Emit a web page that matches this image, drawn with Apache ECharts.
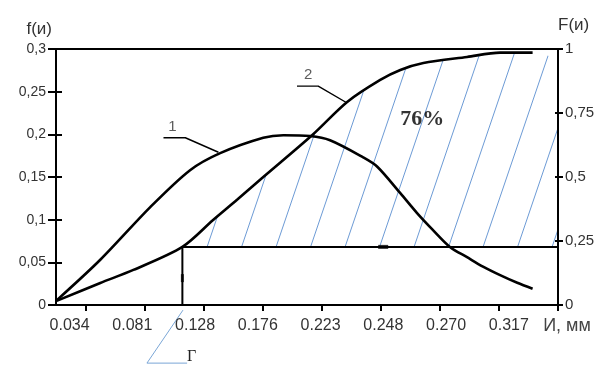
<!DOCTYPE html>
<html><head><meta charset="utf-8">
<script src="https://cdn.jsdelivr.net/npm/echarts@6/dist/echarts.min.js"></script>
<style>html,body{margin:0;padding:0;background:#fff}#c{width:603px;height:365px}</style>
</head><body><div id="c"></div>
<script>
// ---- data ----
const xLabels = ['0.034','0.081','0.128','0.176','0.223','0.248','0.270','0.317'];
const xAxisName = 'И, мм';
const fTickLabels = ['0','0,05','0,1','0,15','0,2','0,25','0,3'];
const FTickLabels = ['0','0,25','0,5','0,75','1'];
const tickIndex = [0,1,2,3,4,5,6,7,8];
const labelIndex = [0,1,2,3,4,5,6,7];

// curve 1: density f(и) (left axis), x in tick units
const curve1X = [-0.48,0.25,1.10,1.77,2.28,3.01,3.35,3.80,4.14,4.70,4.94,5.33,5.61,5.88,6.17,6.46,6.73,7.02,7.31,7.57];
const curve1Y = [0.006,0.053,0.115,0.158,0.178,0.196,0.199,0.198,0.193,0.173,0.162,0.131,0.108,0.088,0.068,0.056,0.045,0.035,0.026,0.019];
// curve 2: distribution F(и) (right axis)
const curve2X = [-0.49,0.25,0.81,1.64,2.16,2.57,3.01,3.84,4.43,4.99,5.33,5.72,6.46,7.02,7.57];
const curve2Y = [0.016,0.086,0.137,0.227,0.332,0.412,0.500,0.664,0.793,0.879,0.918,0.945,0.969,0.986,0.986];

const thresholdX = 1.64, thresholdF = 0.227;
const hatchEndX = 8, hatchEndF = 0.96;
const shareText = '76%', shareX = 5.70, shareF = 0.727;
const arrowH = [5.04, 0.227];
const arrowV = [1.64, 0.105];
const leader1X = [1.32,1.69,2.25], leader1Y = [0.196,0.196,0.179], label1 = ['1', 1.47, 0.209];
const leader2X = [3.58,3.94,4.43], leader2Y = [0.855,0.855,0.789], label2 = ['2', 3.77, 0.900];
const captionLineX = [1.65,1.04,1.72], captionLineY = [-0.02,-0.227,-0.227];
const captionFragment = 'Г';

// ---- build ----
const zip = (a,b) => a.map((v,i)=>[v,b[i]]);
const hatchStart = curve2X.indexOf(thresholdX);
const hatchX = curve2X.slice(hatchStart).concat([hatchEndX]);
const hatchTop = curve2Y.slice(hatchStart).concat([hatchEndF]);

function hatchPattern(){
  const w=69,h=203; const c=document.createElement('canvas'); c.width=w; c.height=h;
  const g=c.getContext('2d'); g.strokeStyle='#5b8fd0'; g.lineWidth=0.9;
  for(let k=-1;k<=3;k++){ const x0=15+34.5*k; g.beginPath(); g.moveTo(x0,0); g.lineTo(x0-69,h); g.stroke(); }
  return c;
}
const font = 'Liberation Sans, Arial, sans-serif';
const txt = '#333';
const chart = echarts.init(document.getElementById('c'), null, {renderer:'canvas'});
const ax = {color:'#000', width:2};
chart.setOption({
  animation:false,
  grid:{left:56, right:45, top:49, bottom:60, show:true, borderColor:'#000', borderWidth:2, backgroundColor:'transparent'},
  xAxis:[
    {type:'value', min:-0.5, max:8, position:'bottom', z:10,
     axisLine:{onZero:false, lineStyle:ax}, axisTick:{customValues:tickIndex, length:6, lineStyle:ax},
     axisLabel:{show:false}, splitLine:{show:false},
     name:xAxisName, nameLocation:'end', nameGap:9,
     nameTextStyle:{fontSize:18, color:'#444', fontFamily:font, align:'center', verticalAlign:'top', padding:[12,0,0,0]}},
    {type:'value', min:-0.217, max:7.783, position:'bottom', z:10,
     axisLine:{show:false, onZero:false}, axisTick:{show:false}, splitLine:{show:false},
     axisLabel:{customValues:labelIndex, formatter:v=>xLabels[Math.round(v)], margin:13, fontSize:16, color:txt, fontFamily:font}}
  ],
  yAxis:[
    {type:'value', min:0, max:0.3, interval:0.05, position:'left', z:10,
     axisLine:{show:true, onZero:false, lineStyle:ax}, axisTick:{show:true, length:8, lineStyle:ax}, splitLine:{show:false},
     axisLabel:{formatter:v=>fTickLabels[Math.round(v/0.05)], margin:10, fontSize:14, color:txt, fontFamily:font},
     name:'f(и)', nameLocation:'end', nameGap:20,
     nameTextStyle:{fontSize:17, color:txt, fontFamily:font, align:'right', verticalAlign:'middle', padding:[0,4,0,0]}},
    {type:'value', min:0, max:0.3, interval:0.05, position:'left', z:10,
     axisLine:{show:false, onZero:false}, axisTick:{show:true, inside:true, length:6, lineStyle:ax}, axisLabel:{show:false}, splitLine:{show:false}},
    {type:'value', min:0, max:1, interval:0.25, position:'right', z:10,
     axisLine:{show:true, onZero:false, lineStyle:ax}, axisTick:{show:true, length:5, lineStyle:ax}, splitLine:{show:false},
     axisLabel:{formatter:v=>FTickLabels[Math.round(v/0.25)], margin:7, fontSize:15, color:txt, fontFamily:font},
     name:'F(и)', nameLocation:'end', nameGap:24,
     nameTextStyle:{fontSize:17, color:txt, fontFamily:font, align:'left', verticalAlign:'middle'}},
    {type:'value', min:0, max:1, interval:0.25, position:'right', z:10,
     axisLine:{show:false, onZero:false}, axisTick:{show:true, inside:true, length:3, lineStyle:ax}, axisLabel:{show:false}, splitLine:{show:false}}
  ],
  series:[
    // hatched area under curve 2 ...
    {type:'line', xAxisIndex:0, yAxisIndex:2, silent:true, symbol:'none', smooth:0.3,
     lineStyle:{opacity:0}, areaStyle:{color:{image:hatchPattern(), repeat:'repeat'}, opacity:1, origin:'start'},
     data:zip(hatchX, hatchTop), z:1},
    // ... cut off below the threshold level
    {type:'line', xAxisIndex:0, yAxisIndex:2, silent:true, symbol:'none',
     lineStyle:{opacity:0}, areaStyle:{color:'#fff', opacity:1, origin:'start'},
     data:[[thresholdX,thresholdF],[hatchEndX,thresholdF]], z:2},
    {type:'line', xAxisIndex:0, yAxisIndex:2, silent:true, symbol:'none',
     lineStyle:{color:'#000', width:2}, data:[[thresholdX,0],[thresholdX,thresholdF],[hatchEndX,thresholdF]], z:3},
    {type:'line', xAxisIndex:0, yAxisIndex:0, silent:true, symbol:'none', smooth:0.3,
     lineStyle:{color:'#000', width:2.6}, data:zip(curve1X, curve1Y), z:4},
    {type:'line', xAxisIndex:0, yAxisIndex:2, silent:true, symbol:'none', smooth:0.3,
     lineStyle:{color:'#000', width:2.6}, data:zip(curve2X, curve2Y), z:4},
    {type:'line', xAxisIndex:0, yAxisIndex:0, silent:true, symbol:'none',
     lineStyle:{color:'#000', width:1.4}, data:zip(leader1X, leader1Y), z:4},
    {type:'line', xAxisIndex:0, yAxisIndex:2, silent:true, symbol:'none',
     lineStyle:{color:'#000', width:1.4}, data:zip(leader2X, leader2Y), z:4},
    {type:'scatter', xAxisIndex:0, yAxisIndex:0, silent:true, symbolSize:0,
     label:{show:true, position:'inside', formatter:()=>label1[0], fontSize:15, color:txt, fontFamily:font},
     data:[[label1[1], label1[2]]], z:5},
    {type:'scatter', xAxisIndex:0, yAxisIndex:2, silent:true, symbolSize:0,
     label:{show:true, position:'inside', formatter:p=>p.data[2], fontSize:15, color:txt, fontFamily:font},
     data:[[label2[1], label2[2], label2[0]]], z:5},
    {type:'scatter', xAxisIndex:0, yAxisIndex:2, silent:true, symbolSize:0,
     label:{show:true, position:'inside', formatter:()=>shareText, fontSize:22, fontWeight:'bold', color:'#000', fontFamily:'Liberation Serif, Times New Roman, serif'},
     data:[[shareX, shareF]], z:5},
    {type:'scatter', xAxisIndex:0, yAxisIndex:2, silent:true, symbol:'rect', symbolSize:[10,4],
     itemStyle:{color:'#000'}, data:[arrowH], z:5},
    {type:'scatter', xAxisIndex:0, yAxisIndex:2, silent:true, symbol:'rect', symbolSize:[3,8],
     itemStyle:{color:'#000'}, data:[arrowV], z:5},
    {type:'line', xAxisIndex:0, yAxisIndex:2, silent:true, symbol:'none', clip:false,
     lineStyle:{color:'#7aa6d6', width:1}, data:zip(captionLineX, captionLineY), z:2,
     endLabel:{show:true, formatter:()=>captionFragment, offset:[-8,-6], fontSize:16, color:'#222', fontFamily:'Liberation Serif, serif'}}
  ]
});
</script></body></html>
